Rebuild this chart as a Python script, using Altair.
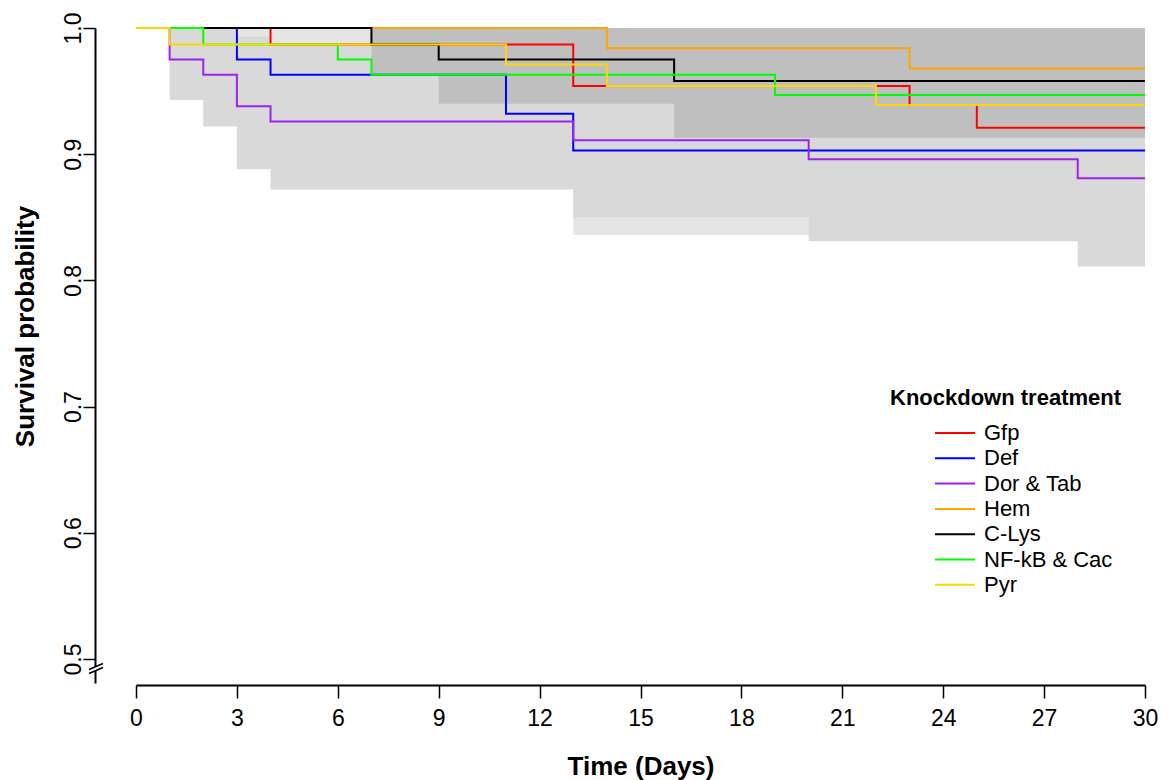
import altair as alt
import pandas as pd

# ---------------- data ----------------
groups = ["Gfp", "Def", "Dor & Tab", "Hem", "C-Lys", "NF-kB & Cac", "Pyr"]
colors = ["#FF0000", "#0000FF", "#A020F0", "#FFA500", "#000000", "#00FF00", "#FFD700"]

gfp_days = [0, 4, 13, 23, 25, 30]
gfp_surv = [1.0, 0.987, 0.954, 0.939, 0.921, 0.921]
def_days = [0, 3, 4, 11, 13, 30]
def_surv = [1.0, 0.975, 0.963, 0.932, 0.903, 0.903]
dor_days = [0, 1, 2, 3, 4, 13, 20, 28, 30]
dor_surv = [1.0, 0.975, 0.963, 0.938, 0.926, 0.911, 0.896, 0.881, 0.881]
hem_days = [0, 14, 23, 30]
hem_surv = [1.0, 0.984, 0.968, 0.968]
clys_days = [0, 7, 9, 16, 30]
clys_surv = [1.0, 0.987, 0.975, 0.958, 0.958]
nfkb_days = [0, 2, 6, 7, 19, 30]
nfkb_surv = [1.0, 0.987, 0.975, 0.963, 0.947, 0.947]
pyr_days = [0, 1, 11, 14, 22, 30]
pyr_surv = [1.0, 0.987, 0.971, 0.954, 0.939, 0.939]

# confidence bands (drawn in grey)
def_ci_days = [3, 4, 11, 13, 30]
def_ci_lo = [0.930, 0.910, 0.875, 0.836, 0.836]
def_ci_hi = [1.0, 1.0, 0.995, 0.975, 0.975]
dor_ci_days = [1, 2, 3, 4, 13, 20, 28, 30]
dor_ci_lo = [0.943, 0.922, 0.888, 0.872, 0.850, 0.831, 0.811, 0.811]
dor_ci_hi = [1.0, 1.0, 0.993, 0.987, 0.975, 0.965, 0.955, 0.955]
clys_ci_days = [7, 9, 16, 30]
clys_ci_lo = [0.963, 0.940, 0.913, 0.913]
clys_ci_hi = [1.0, 1.0, 1.0, 1.0]

band_names = ["Def", "Dor & Tab", "C-Lys"]
band_fills = ["#E5E5E5", "#D9D9D9", "#BFBFBF"]

y_ticks = [0.5, 0.6, 0.7, 0.8, 0.9, 1.0]
x_ticks = list(range(0, 31, 3))

# ---------------- tables ----------------
series = {
    "Gfp": (gfp_days, gfp_surv),
    "Def": (def_days, def_surv),
    "Dor & Tab": (dor_days, dor_surv),
    "Hem": (hem_days, hem_surv),
    "C-Lys": (clys_days, clys_surv),
    "NF-kB & Cac": (nfkb_days, nfkb_surv),
    "Pyr": (pyr_days, pyr_surv),
}
rows = []
for g in groups:
    d, s = series[g]
    for a, b in zip(d, s):
        rows.append({"day": a, "surv": b, "group": g})
lines_df = pd.DataFrame(rows)

bands = {
    "Def": (def_ci_days, def_ci_lo, def_ci_hi),
    "Dor & Tab": (dor_ci_days, dor_ci_lo, dor_ci_hi),
    "C-Lys": (clys_ci_days, clys_ci_lo, clys_ci_hi),
}

# ---------------- styling ----------------
FONT = "Liberation Sans"
W, H = 1009, 655
xscale = alt.Scale(domain=[0, 30], nice=False, zero=False)
yscale = alt.Scale(domain=[0.481, 1.0], nice=False, zero=False)

xaxis = alt.Axis(
    values=x_ticks, title="Time (Days)", grid=False, offset=2,
    tickSize=13, tickWidth=1.5, tickColor="black",
    domainColor="black", domainWidth=2,
    labelFont=FONT, labelFontSize=23, labelColor="black", labelPadding=9,
    labelFlush=False, labelOverlap=False,
    titleFont=FONT, titleFontSize=26, titleFontWeight="bold", titleColor="black",
    titlePadding=23,
)
yaxis = alt.Axis(
    values=y_ticks, format=".1f", title="Survival probability", grid=False, offset=41,
    tickSize=12, tickWidth=1.5, tickColor="black",
    domainColor="black", domainWidth=2,
    labelFont=FONT, labelFontSize=23, labelColor="black", labelPadding=3,
    labelAngle=270, labelAlign="center", labelBaseline="alphabetic",
    labelFlush=False, labelOverlap=False,
    titleFont=FONT, titleFontSize=26, titleFontWeight="bold", titleColor="black",
    titleAngle=270, titleAlign="center", titleBaseline="alphabetic",
    titleX=-62, titleY=298,
)
legend = alt.Legend(
    title="Knockdown treatment", orient="none", legendX=754, legendY=360,
    symbolType="stroke", symbolSize=1600, symbolStrokeWidth=2,
    symbolOffset=44, labelOffset=8, clipHeight=22, rowPadding=3.3,
    titleFont=FONT, titleFontSize=22, titleFontWeight="bold", titleColor="black",
    titlePadding=12, titleLimit=600, labelLimit=600,
    labelFont=FONT, labelFontSize=22, labelColor="black",
    padding=0,
)

layers = []
for name, fill in zip(band_names, band_fills):
    d, lo, hi = bands[name]
    bdf = pd.DataFrame({"day": d, "lo": lo, "hi": hi})
    layers.append(
        alt.Chart(bdf).mark_area(interpolate="step-after", color=fill, opacity=1).encode(
            x=alt.X("day:Q", scale=xscale, axis=xaxis),
            y=alt.Y("lo:Q", scale=yscale, axis=yaxis),
            y2="hi:Q",
        )
    )

color_enc = alt.Color("group:N", scale=alt.Scale(domain=groups, range=colors), legend=legend)
for g in groups:
    layers.append(
        alt.Chart(lines_df).transform_filter(alt.datum.group == g)
        .mark_line(interpolate="step-after", strokeWidth=2)
        .encode(
            x=alt.X("day:Q", scale=xscale, axis=xaxis),
            y=alt.Y("surv:Q", scale=yscale, axis=yaxis),
            color=color_enc,
        )
    )

# axis break marks on the y axis
dummy = pd.DataFrame({"k": [0]})
gap = alt.Chart(dummy).mark_rule(color="white", strokeWidth=5).encode(
    x=alt.value(-40.5), x2=alt.value(-40.5), y=alt.value(638.5), y2=alt.value(642.5)
)
brk1 = alt.Chart(dummy).mark_rule(color="black", strokeWidth=1.5).encode(
    x=alt.value(-47), x2=alt.value(-33), y=alt.value(641.5), y2=alt.value(635.5)
)
brk2 = alt.Chart(dummy).mark_rule(color="black", strokeWidth=1.5).encode(
    x=alt.value(-47), x2=alt.value(-33), y=alt.value(645.5), y2=alt.value(639.5)
)
layers += [gap, brk1, brk2]

chart = alt.layer(*layers).properties(
    width=W, height=H,
    padding={"left": 136, "top": 28, "right": 24, "bottom": 97},
    autosize=alt.AutoSizeParams(type="none"),
    background="white",
).configure_view(strokeWidth=0)

chart.save("out.html", embed_options={"renderer": "svg", "actions": False})
